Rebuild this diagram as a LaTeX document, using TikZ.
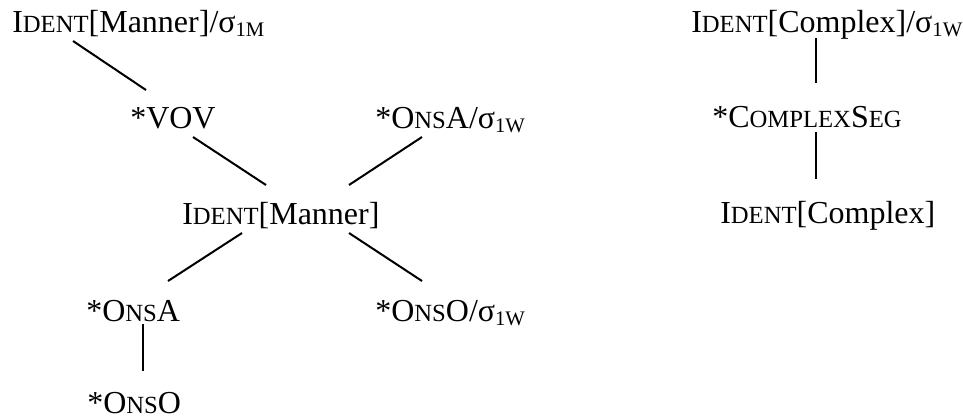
\documentclass[tikz,border=0pt]{standalone}
\usepackage{fontspec}
\setmainfont{Liberation Serif}
\usepackage{tikz}
\usetikzlibrary{calc}
\newcommand{\smc}[1]{{\fontsize{18.5}{20}\selectfont #1}}
\newcommand{\sigsub}[1]{σ\raisebox{-3.5pt}{\fontsize{15.5}{16}\selectfont #1}}
\tikzset{
  con/.style={anchor=base west, inner sep=0pt, font=\fontsize{24}{28}\selectfont},
  link/.style={draw=black, line width=1.5pt}
}

\begin{document}
\begin{tikzpicture}[x=0.75pt, y=-0.75pt]
  \useasboundingbox (0,0) rectangle (963,419);

  % left hierarchy
  \node[con] (identmtop) at (12,32) {I\smc{DENT}[Manner]/\sigsub{1M}};
  \node[con] (vov) at (130,128) {*VOV};
  \node[con] (onsaw) at (375,128) {*O\smc{NS}A/\sigsub{1W}};
  \node[con] (identm) at (182,224) {I\smc{DENT}[Manner]};
  \node[con] (onsa) at (86,321) {*O\smc{NS}A};
  \node[con] (onsow) at (375,321) {*O\smc{NS}O/\sigsub{1W}};
  \node[con] (onso) at (87,413) {*O\smc{NS}O};

  % right hierarchy
  \node[con] (identctop) at (691,32) {I\smc{DENT}[Complex]/\sigsub{1W}};
  \node[con] (cseg) at (712,127) {*C\smc{OMPLEX}S\smc{EG}};
  \node[con] (identc) at (720,223) {I\smc{DENT}[Complex]};

  \draw[link] ($(identmtop.base west)+(61,9)$) -- ($(vov.base west)+(16,-38)$);
  \draw[link] ($(vov.base west)+(63,9)$) -- ($(identm.base west)+(84,-39)$);
  \draw[link] ($(onsaw.base west)+(47,9)$) -- ($(identm.base west)+(167,-39)$);
  \draw[link] ($(identm.base west)+(60,9)$) -- ($(onsa.base west)+(82,-40)$);
  \draw[link] ($(identm.base west)+(167,9)$) -- ($(onsow.base west)+(47,-40)$);
  \draw[link] ($(onsa.base west)+(57,3)$) -- ($(onso.base west)+(56,-42)$);

  \draw[link] ($(identctop.base west)+(125,6)$) -- ($(cseg.base west)+(104,-44)$);
  \draw[link] ($(cseg.base west)+(104,5)$) -- ($(identc.base west)+(96,-44)$);
\end{tikzpicture}
\end{document}
